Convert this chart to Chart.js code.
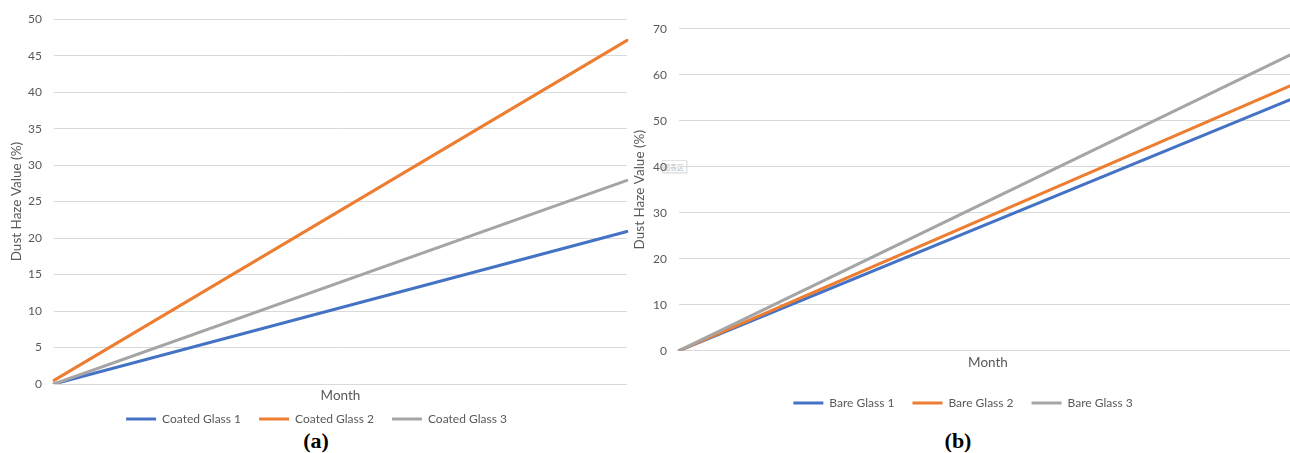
<!DOCTYPE html>
<html><head><meta charset="utf-8">
<script src="https://cdn.jsdelivr.net/npm/chart.js@4/dist/chart.umd.min.js"></script>
<style>
html,body{margin:0;padding:0;background:#fff;width:1290px;height:453px;overflow:hidden;position:relative;}
.cv{position:absolute;top:0;z-index:2;}
.lbl{position:absolute;font-family:"Liberation Serif",serif;font-weight:bold;font-size:22px;color:#000;transform:translate(-50%,-50%);white-space:nowrap;}
#tip{position:absolute;left:662px;top:160px;width:25px;height:13px;border:1px solid #e2e2e2;box-shadow:1px 1px 1px #eee;font-family:"Noto Sans CJK SC",sans-serif;font-size:7px;line-height:13px;color:#c0c0c0;text-align:right;padding-right:2px;box-sizing:border-box;z-index:1;}
</style></head>
<body>
<div style="position:absolute;left:0;top:0;width:634px;height:435px" class="cv"><canvas id="c1"></canvas></div>
<div style="position:absolute;left:623px;top:0;width:678px;height:419px" class="cv"><canvas id="c2"></canvas></div>
<div id="tip">图表区</div>
<div class="lbl" style="left:316px;top:441px">(a)</div>
<div class="lbl" style="left:958px;top:441px">(b)</div>
<script>
const months = ['', ''];
const coatedNames = ['Coated Glass 1', 'Coated Glass 2', 'Coated Glass 3'];
const coated1 = [0, 20.9];
const coated2 = [0.5, 47.1];
const coated3 = [0, 27.9];
const bareNames = ['Bare Glass 1', 'Bare Glass 2', 'Bare Glass 3'];
const bare1 = [0, 55.2];
const bare2 = [0, 58.2];
const bare3 = [0, 65.0];
const yTicksA = {min: 0, max: 50, step: 5};
const yTicksB = {min: 0, max: 70, step: 10};
const colors = ['#4472C4', '#ED7D31', '#A5A5A5'];
const yTitle = 'Dust Haze Value (%)';
const xTitle = 'Month';

const FONT = 'Lato';
const GRAY = '#595959';

function makeChart(id, names, series, yt, cfg) {
  const datasets = series.map((d, i) => ({
    label: names[i], data: d, borderColor: colors[i], backgroundColor: colors[i],
    borderWidth: 3, pointRadius: 0, tension: 0, fill: false, order: series.length - i,
    borderCapStyle: 'round'
  }));
  return new Chart(document.getElementById(id), {
    type: 'line',
    data: {labels: months, datasets},
    options: {
      responsive: true, maintainAspectRatio: false, animation: false,
      layout: {padding: cfg.padding},
      plugins: {
        tooltip: {enabled: false},
        legend: {
          position: 'bottom',
          labels: {
            font: {family: FONT, size: 12}, color: GRAY, boxWidth: 30, boxHeight: 3, padding: 18,
            generateLabels: (chart) => chart.data.datasets.map((ds, i) => ({
              text: ds.label, fillStyle: ds.borderColor, strokeStyle: 'rgba(0,0,0,0)', lineWidth: 0,
              fontColor: GRAY, datasetIndex: i, hidden: false
            }))
          }
        }
      },
      scales: {
        x: {
          offset: false,
          grid: {display: false, drawTicks: false},
          border: {display: false},
          ticks: {display: false},
          title: {display: true, text: xTitle, color: GRAY, font: {family: FONT, size: 13.5}, padding: {top: 0, bottom: cfg.xTitlePad}},
          afterFit: s => { s.height = cfg.xHeight; }
        },
        y: {
          min: yt.min, max: yt.max,
          grid: {color: '#D9D9D9', lineWidth: 1, drawTicks: false},
          border: {display: false},
          ticks: {stepSize: yt.step, color: GRAY, font: {family: FONT, size: 12}, padding: 12},
          title: {display: true, text: yTitle, color: GRAY, font: {family: FONT, size: 13.5}, padding: {top: 2.9, bottom: 0}},
          afterFit: s => { s.width = cfg.yWidth; }
        }
      }
    }
  });
}

makeChart('c1', coatedNames, [coated1, coated2, coated3], yTicksA,
  {padding: {left: 6, right: 7, top: 18.3, bottom: 0}, xHeight: 11, xTitlePad: -9.1, yWidth: 48});
makeChart('c2', bareNames, [bare1, bare2, bare3], yTicksB,
  {padding: {left: 6, right: 4, top: 28.7, bottom: 0}, xHeight: 28.3, xTitlePad: 7.9, yWidth: 50});
</script>
</body></html>
